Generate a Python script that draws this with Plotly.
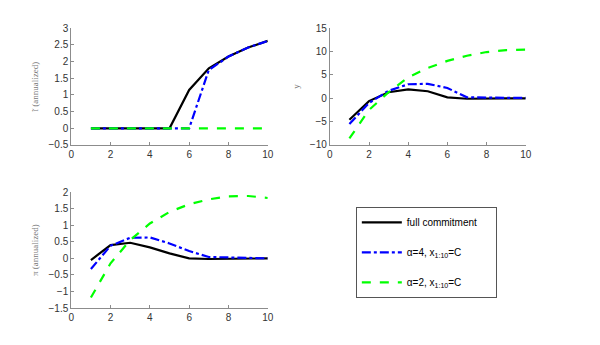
import plotly.graph_objects as go

t = [1, 2, 3, 4, 5, 6, 7, 8, 9, 10]

# Panel 1: i (annualized)
i_full = [0, 0, 0, 0, 0, 1.15, 1.8, 2.15, 2.42, 2.62]
i_a4 = [0, 0, 0, 0, 0, 0, 1.75, 2.15, 2.42, 2.62]
i_a2 = [0, 0, 0, 0, 0, 0, 0, 0, 0, 0]

# Panel 2: y
y_full = [-4.6, -0.6, 1.3, 1.9, 1.5, 0.2, -0.1, 0.0, 0.0, 0.0]
y_a4 = [-5.5, -1.0, 1.6, 3.0, 3.1, 2.2, 0.2, 0.1, 0.1, 0.1]
y_a2 = [-8.6, -2.5, 1.3, 4.5, 6.5, 8.0, 9.1, 9.9, 10.3, 10.4]

# Panel 3: pi (annualized)
p_full = [-0.05, 0.4, 0.47, 0.33, 0.15, 0.0, -0.02, -0.02, 0.0, 0.0]
p_a4 = [-0.32, 0.38, 0.62, 0.63, 0.45, 0.22, 0.04, 0.03, 0.01, 0.0]
p_a2 = [-1.18, -0.15, 0.55, 1.05, 1.4, 1.63, 1.78, 1.87, 1.88, 1.82]

names = ["full commitment\u00a0\u00a0\u00a0\u00a0\u00a0",
         "\u03b1=4, x<sub>1:10</sub>=C",
         "\u03b1=2, x<sub>1:10</sub>=C"]
colors = ["#000000", "#0000ff", "#00ff00"]
dashes = ["solid", "dashdot", "dash"]

panels = [
    (i_full, i_a4, i_a2, "x", "y"),
    (y_full, y_a4, y_a2, "x2", "y2"),
    (p_full, p_a4, p_a2, "x3", "y3"),
]

fig = go.Figure()
for pi_, (a, b, c, xa, ya) in enumerate(panels):
    for k, series in enumerate([a, b, c]):
        fig.add_trace(go.Scatter(
            x=t, y=series, mode="lines", xaxis=xa, yaxis=ya,
            name=names[k], showlegend=(pi_ == 0), legendgroup=str(k),
            line=dict(color=colors[k], width=2.2, dash=dashes[k]),
        ))

axcol = "#8c8c8c"
tickfont = dict(family="Arial, Liberation Sans, sans-serif", size=10, color="#333333")
labfont = dict(family="Liberation Serif, DejaVu Serif, serif", size=9, color="#777777")

def xa(domain, anchor):
    return dict(domain=domain, anchor=anchor, range=[0, 10], dtick=2, tick0=0,
                showgrid=False, zeroline=False, showline=True, linecolor=axcol,
                linewidth=1, ticks="inside", ticklen=3, tickcolor=axcol,
                tickfont=tickfont)

def ya(domain, anchor, rng, dt, title):
    return dict(domain=domain, anchor=anchor, range=rng, dtick=dt, tick0=rng[0],
                showgrid=False, zeroline=False, showline=True, linecolor=axcol,
                linewidth=1, ticks="inside", ticklen=3, tickcolor=axcol,
                tickfont=tickfont, title=dict(text=title, font=labfont, standoff=8))

top = [0.5826, 0.9333]
bot = [0.0928, 0.4414]
left = [0.1155, 0.448]
right = [0.553, 0.8845]

fig.update_layout(
    width=600, height=345,
    margin=dict(l=0, r=0, t=0, b=0),
    paper_bgcolor="white", plot_bgcolor="white",
    xaxis=xa(left, "y"),
    yaxis=ya(top, "x", [-0.5, 3], 0.5, "\u0129 (annualized)"),
    xaxis2=xa(right, "y2"),
    yaxis2=ya(top, "x2", [-10, 15], 5, "y"),
    xaxis3=xa(left, "y3"),
    yaxis3=ya(bot, "x3", [-1.5, 2], 0.5, "\u03c0 (annualized)"),
    legend=dict(x=0.597, y=0.397, xanchor="left", yanchor="top",
                bordercolor="#555555", borderwidth=1, bgcolor="white",
                font=dict(family="Arial, Liberation Sans, sans-serif", size=10, color="#000000"),
                tracegroupgap=11, itemwidth=40),
    separators=".,",
)

fig.write_html("out.html")
